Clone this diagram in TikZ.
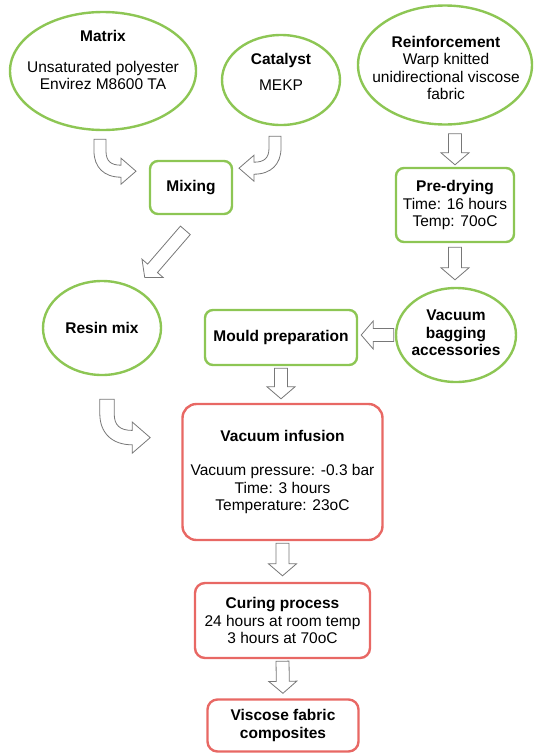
\documentclass[tikz,border=0pt]{standalone}
\usepackage{fontspec}
\setmainfont{Liberation Sans}
\usetikzlibrary{shapes.geometric, calc}
\definecolor{procgreen}{RGB}{141,198,84}
\definecolor{procred}{RGB}{232,104,100}
\definecolor{arrowgray}{RGB}{120,120,120}

% block arrow: gap at start, gap at end, from, to
\newcommand{\blockarrow}[4]{%
  \coordinate (ba-s) at ($(#3)!#1pt!(#4)$);
  \coordinate (ba-e) at ($(#4)!#2pt!(#3)$);
  \coordinate (ba-h) at ($(ba-e)!12pt!(ba-s)$);
  \draw[flow] ($(ba-s)!6.5pt!90:(ba-e)$) -- ($(ba-h)!6.5pt!-90:(ba-s)$)
    -- ($(ba-h)!14pt!-90:(ba-s)$) -- (ba-e) -- ($(ba-h)!14pt!90:(ba-s)$)
    -- ($(ba-h)!6.5pt!90:(ba-s)$) -- ($(ba-s)!6.5pt!-90:(ba-e)$) -- cycle;
}

\begin{document}
\begin{tikzpicture}[x=1pt, y=-1pt,
    every node/.style={font=\fontsize{15.5}{17.5}\selectfont, align=center, inner sep=0pt},
    oval/.style={ellipse, draw=procgreen, line width=2.4pt},
    greenbox/.style={rectangle, rounded corners=8pt, draw=procgreen, line width=2.4pt},
    redbox/.style={rectangle, rounded corners=10pt, draw=procred, line width=2.4pt},
    flow/.style={draw=arrowgray, fill=white, line width=0.8pt},
    bent/.pic={\draw[flow] (-6,0) -- (-6,12) .. controls (-6,28) and (4,38) .. (21,38)
      -- (21,45) -- (36,32) -- (21,19) -- (21,26) .. controls (11,26) and (6,22) .. (6,12)
      -- (6,0) -- cycle;}
  ]
  \useasboundingbox (0,0) rectangle (534,753);

  % inputs
  \node[oval, minimum width=186pt, minimum height=118pt] (matrix) at (103,71) {};
  \node (matrixtxt) at (103,60) {\textbf{Matrix}\\[13pt]Unsaturated polyester\\Envirez M8600 TA};
  \node[oval, minimum width=118pt, minimum height=90pt] (catalyst) at (281,80) {};
  \node (catalysttxt) at (281,72) {\textbf{Catalyst}\\[9pt]MEKP};
  \node[oval, minimum width=174pt, minimum height=119pt] (reinf) at (445,65) {};
  \node (reinftxt) at (446,68) {\textbf{Reinforcement}\\Warp knitted\\unidirectional viscose\\fabric};

  \node[greenbox, minimum width=82pt, minimum height=53pt] (mixing) at (191,187.5) {\textbf{Mixing}};
  \node[greenbox, minimum width=118pt, minimum height=74pt] (predry) at (455,205) {\textbf{Pre-drying}\\Time: 16 hours\\Temp: 70oC};

  \node[oval, minimum width=118pt, minimum height=94pt] (resin) at (102,328) {\textbf{Resin mix}};
  \node[oval, minimum width=120pt, minimum height=94pt] (vacbag) at (456,335) {};
  \node[font=\fontsize{15.5}{17.5}\selectfont\bfseries] (vacbagtxt) at (456,333) {Vacuum\\bagging\\accessories};
  \node[greenbox, minimum width=152pt, minimum height=55pt] (mould) at (281,337.5) {\textbf{Mould preparation}};

  % process
  \node[redbox, rounded corners=14pt, minimum width=200pt, minimum height=136pt] (infusion) at (282.5,472)
    {\textbf{Vacuum infusion}\\[17pt]Vacuum pressure: -0.3 bar\\Time: 3 hours\\Temperature: 23oC};
  \node[redbox, minimum width=175pt, minimum height=75pt] (curing) at (282.5,620.5)
    {\textbf{Curing process}\\24 hours at room temp\\3 hours at 70oC};
  \node[redbox, minimum width=151pt, minimum height=52pt] (viscose) at (283,725.5)
    {\textbf{Viscose fabric}\\\textbf{composites}};

  % arrows
  \pic at ($(matrix.south)+(-3,8)$) {bent};
  \pic[xscale=-1] at ($(catalyst.south)+(-6,10)$) {bent};
  \pic[scale=1.2] at ($(resin.south)+(5,23)$) {bent};
  \blockarrow{8}{2}{predry.north |- reinf.south}{predry.north}
  \blockarrow{4}{7}{predry.south}{predry.south |- vacbag.north}
  \blockarrow{1}{3}{vacbag.west}{mould.east |- vacbag.west}
  \blockarrow{20}{14}{mixing.285}{resin.50}
  \blockarrow{2}{4}{mould.south}{mould.south |- infusion.north}
  \blockarrow{2}{6}{infusion.south}{curing.north}
  \blockarrow{2}{5}{curing.south}{viscose.north}
\end{tikzpicture}
\end{document}
